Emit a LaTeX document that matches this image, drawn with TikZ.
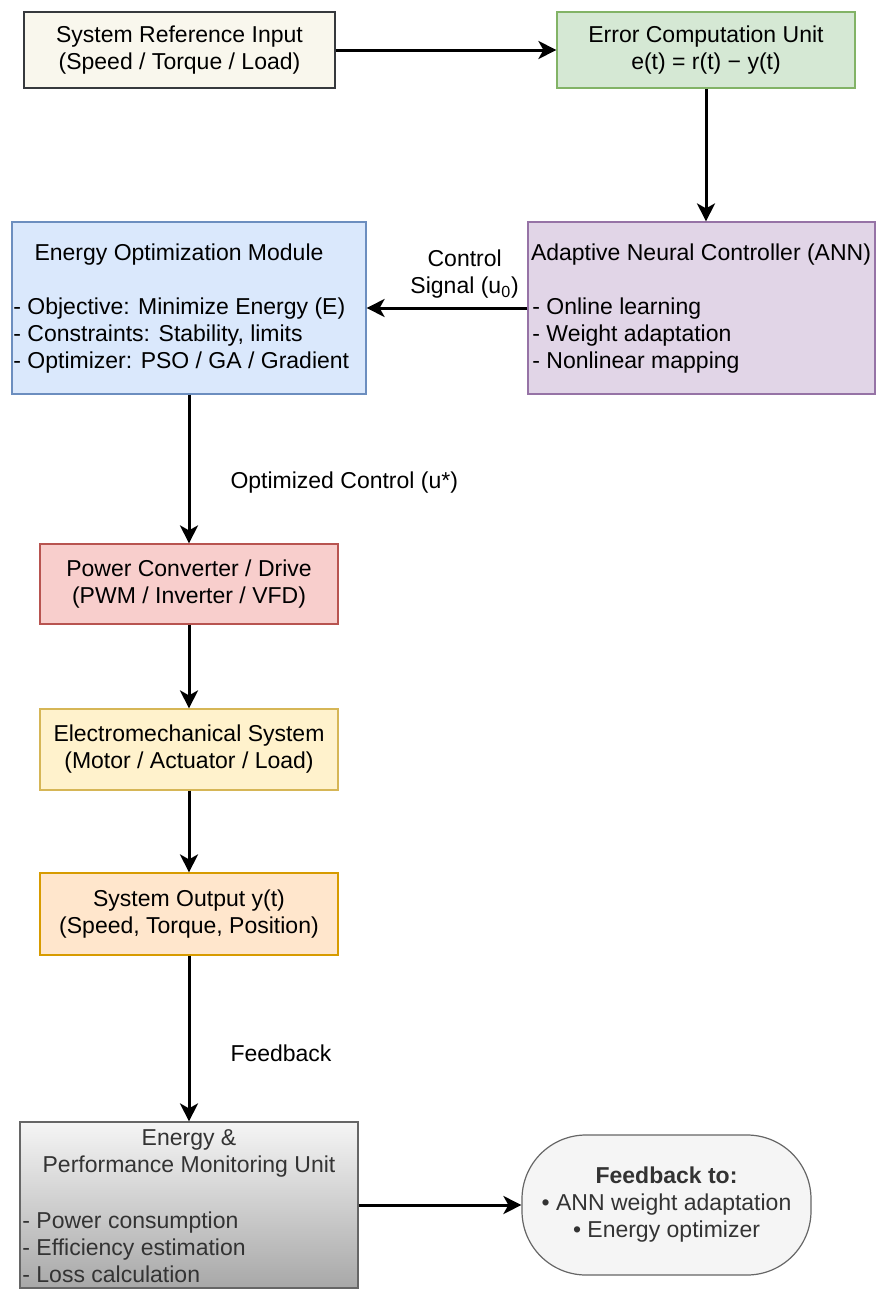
\documentclass[tikz,border=0pt]{standalone}
\usepackage{fontspec}
\setmainfont{Liberation Sans}
\usetikzlibrary{positioning, arrows.meta}

\definecolor{refFill}{HTML}{F9F7ED}
\definecolor{refLine}{HTML}{36393D}
\definecolor{errFill}{HTML}{D5E8D4}
\definecolor{errLine}{HTML}{82B366}
\definecolor{annFill}{HTML}{E1D5E7}
\definecolor{annLine}{HTML}{9673A6}
\definecolor{optFill}{HTML}{DAE8FC}
\definecolor{optLine}{HTML}{6C8EBF}
\definecolor{pwrFill}{HTML}{F8CECC}
\definecolor{pwrLine}{HTML}{B85450}
\definecolor{emsFill}{HTML}{FFF2CC}
\definecolor{emsLine}{HTML}{D6B656}
\definecolor{outFill}{HTML}{FFE6CC}
\definecolor{outLine}{HTML}{D79B00}
\definecolor{monTop}{HTML}{F5F5F5}
\definecolor{monBot}{HTML}{A8A8A8}
\definecolor{greyLine}{HTML}{666666}
\definecolor{greyText}{HTML}{333333}

\begin{document}
\begin{tikzpicture}[
    x=0.5pt, y=-0.5pt,
    font=\fontsize{11.5}{13.5}\selectfont,
    block/.style={rectangle, draw, line width=0.6pt, inner sep=0pt, align=center},
    txt/.style={inner sep=0pt, align=left},
    lbl/.style={inner sep=0pt, align=center},
    flow/.style={-{Stealth[length=9pt, width=9pt, inset=2.5pt]}, line width=1.5pt},
]
  \useasboundingbox (0,0) rectangle (876,1290);

  \node[block, fill=refFill, draw=refLine, minimum width=155.5pt, minimum height=38pt] (ref) at (179.5,50) {System Reference Input\\(Speed / Torque / Load)};
  \node[block, fill=errFill, draw=errLine, minimum width=149pt, minimum height=38pt] (err) at (706,50) {Error Computation Unit\\e(t) = r(t) − y(t)};

  \node[block, fill=annFill, draw=annLine, minimum width=173.5pt, minimum height=86pt] (ann) at (701.5,308) {};
  \node[lbl] (anntitle) at (701,254.5) {Adaptive Neural Controller (ANN)};
  \node[txt, anchor=west] (annlist) at (532,335.5) {- Online learning\\- Weight adaptation\\- Nonlinear mapping};

  \node[block, fill=optFill, draw=optLine, minimum width=177pt, minimum height=86pt] (eom) at (189,308) {};
  \node[lbl] (eomtitle) at (179,254.5) {Energy Optimization Module};
  \node[txt, anchor=west] (eomlist) at (13,335.5) {- Objective: Minimize Energy (E)\\- Constraints: Stability, limits\\- Optimizer: PSO / GA / Gradient};

  \node[block, fill=pwrFill, draw=pwrLine, minimum width=149pt, minimum height=40pt] (pcd) at (189,584) {Power Converter / Drive\\(PWM / Inverter / VFD)};
  \node[block, fill=emsFill, draw=emsLine, minimum width=149pt, minimum height=40.5pt] (ems) at (189,749.5) {Electromechanical System\\(Motor / Actuator / Load)};
  \node[block, fill=outFill, draw=outLine, minimum width=149pt, minimum height=41pt] (out) at (189,914) {System Output y(t)\\(Speed, Torque, Position)};

  \node[block, top color=monTop, bottom color=monBot, draw=greyLine, minimum width=169pt, minimum height=83pt] (mon) at (189,1205) {};
  \node[lbl, text=greyText] (montitle) at (189,1153) {Energy \&\\Performance Monitoring Unit};
  \node[txt, anchor=west, text=greyText] (monlist) at (22,1247) {- Power consumption\\- Efficiency estimation\\- Loss calculation};

  \node[block, fill=monTop, draw=greyLine, rounded corners=32pt, minimum width=144.5pt, minimum height=70pt, text=greyText] (fb) at (666.5,1205) {\bfseries Feedback to:\\• ANN weight adaptation\\• Energy optimizer};

  \draw[flow] (ref) -- (err);
  \draw[flow] (err.south) -- (err.south |- ann.north);
  \draw[flow] (ann) -- node[lbl, pos=0.39, above=4pt] (ctl) {Control\\Signal (u\textsubscript{0})} (eom);
  \draw[flow] (eom) -- node[lbl, pos=0.59, right=20pt] (opt) {Optimized Control (u*)} (pcd);
  \draw[flow] (pcd) -- (ems);
  \draw[flow] (ems) -- (out);
  \draw[flow] (out) -- node[lbl, pos=0.59, right=20pt] (fbk) {Feedback} (mon);
  \draw[flow] (mon) -- (fb);
\end{tikzpicture}
\end{document}
